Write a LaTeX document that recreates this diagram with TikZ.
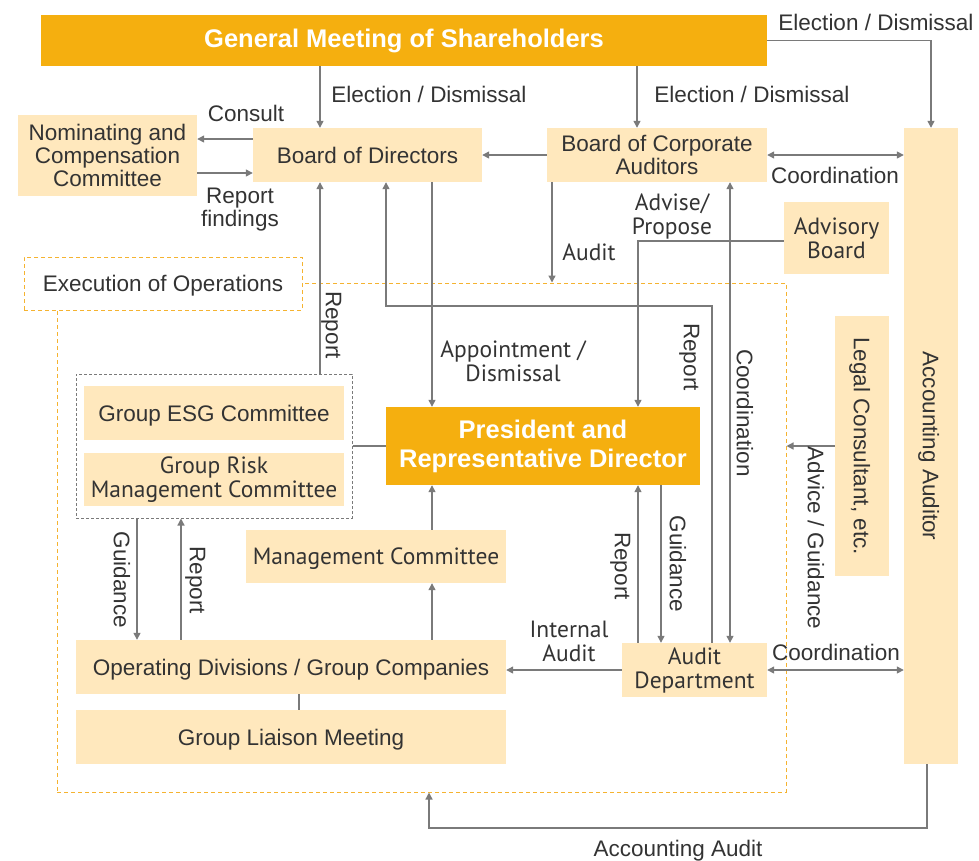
\documentclass[tikz,border=0pt]{standalone}
\usepackage{fontspec}
\setmainfont{Liberation Sans}
\newfontfamily\humfont{PT Sans}
\usetikzlibrary{arrows.meta, positioning}
\definecolor{gold}{HTML}{F5AF0F}
\definecolor{pale}{HTML}{FFE8BD}
\definecolor{lineg}{HTML}{7A7A7A}
\definecolor{txt}{HTML}{333333}
\definecolor{dashgold}{HTML}{F5B330}

\begin{document}
\begin{tikzpicture}[
    x=1pt, y=-1pt,
    every node/.style={text=txt, font=\fontsize{22.5}{23}\selectfont},
    box/.style={fill=pale, inner sep=0pt, align=center},
    key/.style={fill=gold, text=white, inner sep=0pt, align=center, font=\bfseries\fontsize{25.5}{29}\selectfont},
    lbl/.style={inner sep=0pt, align=center},
    sl/.style={text height=21pt, text depth=4.7pt},
    hum/.style={font=\humfont\fontsize{23.5}{24}\selectfont},
    region/.style={draw=dashgold, line width=1pt, dash pattern=on 4pt off 3pt},
    ln/.style={draw=lineg, line width=1.3pt},
    arr/.style={ln, -{Triangle[length=7pt,width=7pt]}},
    both/.style={ln, {Triangle[length=7pt,width=7pt]}-{Triangle[length=7pt,width=7pt]}}
]
    \useasboundingbox (0,0) rectangle (979,860);

    % execution of operations area
    \node (ops) [region, minimum width=729, minimum height=509] at (421.5,537.5) {};
    \node (exe) [lbl, sl, region, fill=white, minimum width=278, minimum height=53] at (163,283.5) {Execution of Operations};

    % boxes
    \node (gm) [key, minimum width=726, minimum height=51] at (404,40.5) {General Meeting of Shareholders};
    \node (bod) [box, sl, minimum width=229, minimum height=54] at (367.5,155) {Board of Directors};
    \node (boca) [box, minimum width=220, minimum height=54] at (657,155) {Board of Corporate\\Auditors};
    \node (ncc) [box, minimum width=179, minimum height=81] at (107.5,155.5) {Nominating and\\Compensation\\Committee};
    \node (aa) [box, sl, rotate=-90, minimum width=636, minimum height=54] at (931,446) {Accounting Auditor};
    \node (adv) [box, hum, minimum width=105, minimum height=72] at (836.5,238) {Advisory\\Board};
    \node (lc) [box, sl, rotate=-90, minimum width=260, minimum height=54] at (862,446) {Legal Consultant, etc.};
    \node (grp) [draw=lineg, line width=1pt, dash pattern=on 3pt off 2pt, minimum width=276, minimum height=144] at (214,446) {};
    \node (esg) [box, sl, minimum width=260, minimum height=54] at (214,413) {Group ESG Committee};
    \node (grm) [box, hum, minimum width=260, minimum height=53] at (214,479.5) {Group Risk\\Management Committee};
    \node (pres) [key, minimum width=314, minimum height=78] at (543,446) {President and\\Representative Director};
    \node (mc) [box, hum, sl, minimum width=260, minimum height=53] at (376,556.5) {Management Committee};
    \node (od) [box, sl, minimum width=430, minimum height=54] at (291,667) {Operating Divisions / Group Companies};
    \node (glm) [box, sl, minimum width=430, minimum height=54] at (291,737) {Group Liaison Meeting};
    \node (ad) [box, hum, minimum width=145, minimum height=54] at (694.5,670) {Audit\\Department};

    % connectors
    \draw [arr] (320,0 |- gm.south) -- (320,0 |- bod.north);
    \draw [arr] (637,0 |- gm.south) -- (637,0 |- boca.north);
    \draw [arr] (gm.east) -| (aa.west);
    \draw [arr] (boca.west) -- (bod.east);
    \draw [both] (boca.east) -- (aa.south |- boca.east);
    \draw [arr] (bod.west |- 0,139) -- (ncc.east |- 0,139);
    \draw [arr] (ncc.east |- 0,173) -- (bod.west |- 0,173);
    \draw [arr] (552,0 |- boca.south) -- (552,0 |- ops.north);
    \draw [arr] (adv.west |- 0,241) -| (638,0 |- pres.north);
    \draw [both] (730,0 |- boca.south) -- (730,0 |- ad.north);
    \draw [arr] (712,0 |- ad.north) |- (386,306) -- (386,0 |- bod.south);
    \draw [arr] (432,0 |- bod.south) -- (432,0 |- pres.north);
    \draw [arr] (320,0 |- grp.north) -- (320,0 |- bod.south);
    \draw [ln] (grp.east) -- (pres.west |- grp.east);
    \draw [arr] (137,0 |- grp.south) -- (137,0 |- od.north);
    \draw [arr] (181,0 |- od.north) -- (181,0 |- grp.south);
    \draw [arr] (432,0 |- mc.north) -- (432,0 |- pres.south);
    \draw [arr] (432,0 |- od.north) -- (432,0 |- mc.south);
    \draw [ln] (299,0 |- od.south) -- (299,0 |- glm.north);
    \draw [arr] (638,0 |- ad.north) -- (638,0 |- pres.south);
    \draw [arr] (661,0 |- pres.south) -- (661,0 |- ad.north);
    \draw [arr] (ad.west) -- (od.east |- ad.west);
    \draw [both] (ad.east) -- (aa.south |- ad.east);
    \draw [arr] (lc.south) -- (ops.east |- lc.south);
    \draw [arr] (927,0 |- aa.east) -- (927,828) -| (429,0 |- ops.south);

    % labels
    \node (ed1) [lbl, sl] at (876,22) {Election / Dismissal};
    \node (ed2) [lbl, sl] at (429,94) {Election / Dismissal};
    \node (ed3) [lbl, sl] at (752,94) {Election / Dismissal};
    \node (consult) [lbl, sl] at (246,113) {Consult};
    \node (findings) [lbl] at (240,210) {Report\\findings};
    \node (coord1) [lbl, sl] at (835,175) {Coordination};
    \node (advise) [lbl, hum] at (672,216) {Advise/\\Propose};
    \node (audit) [lbl, hum, sl] at (589,252) {Audit};
    \node (rep1) [lbl, sl, rotate=-90] at (692,357) {Report};
    \node (coord2) [lbl, sl, rotate=-90] at (745,413) {Coordination};
    \node (rep2) [lbl, sl, rotate=-90] at (334,325) {Report};
    \node (appoint) [lbl, hum] at (513,361) {Appointment /\\Dismissal};
    \node (advice) [lbl, sl, rotate=-90] at (816,538) {Advice / Guidance};
    \node (guid1) [lbl, sl, rotate=-90] at (122,580) {Guidance};
    \node (rep3) [lbl, sl, rotate=-90] at (198,580) {Report};
    \node (rep4) [lbl, sl, rotate=-90] at (623,566) {Report};
    \node (guid2) [lbl, sl, rotate=-90] at (678,564) {Guidance};
    \node (internal) [lbl, hum] at (569,641) {Internal\\Audit};
    \node (coord3) [lbl, sl] at (836,652) {Coordination};
    \node (acaudit) [lbl, sl] at (678,848) {Accounting Audit};
\end{tikzpicture}
\end{document}
